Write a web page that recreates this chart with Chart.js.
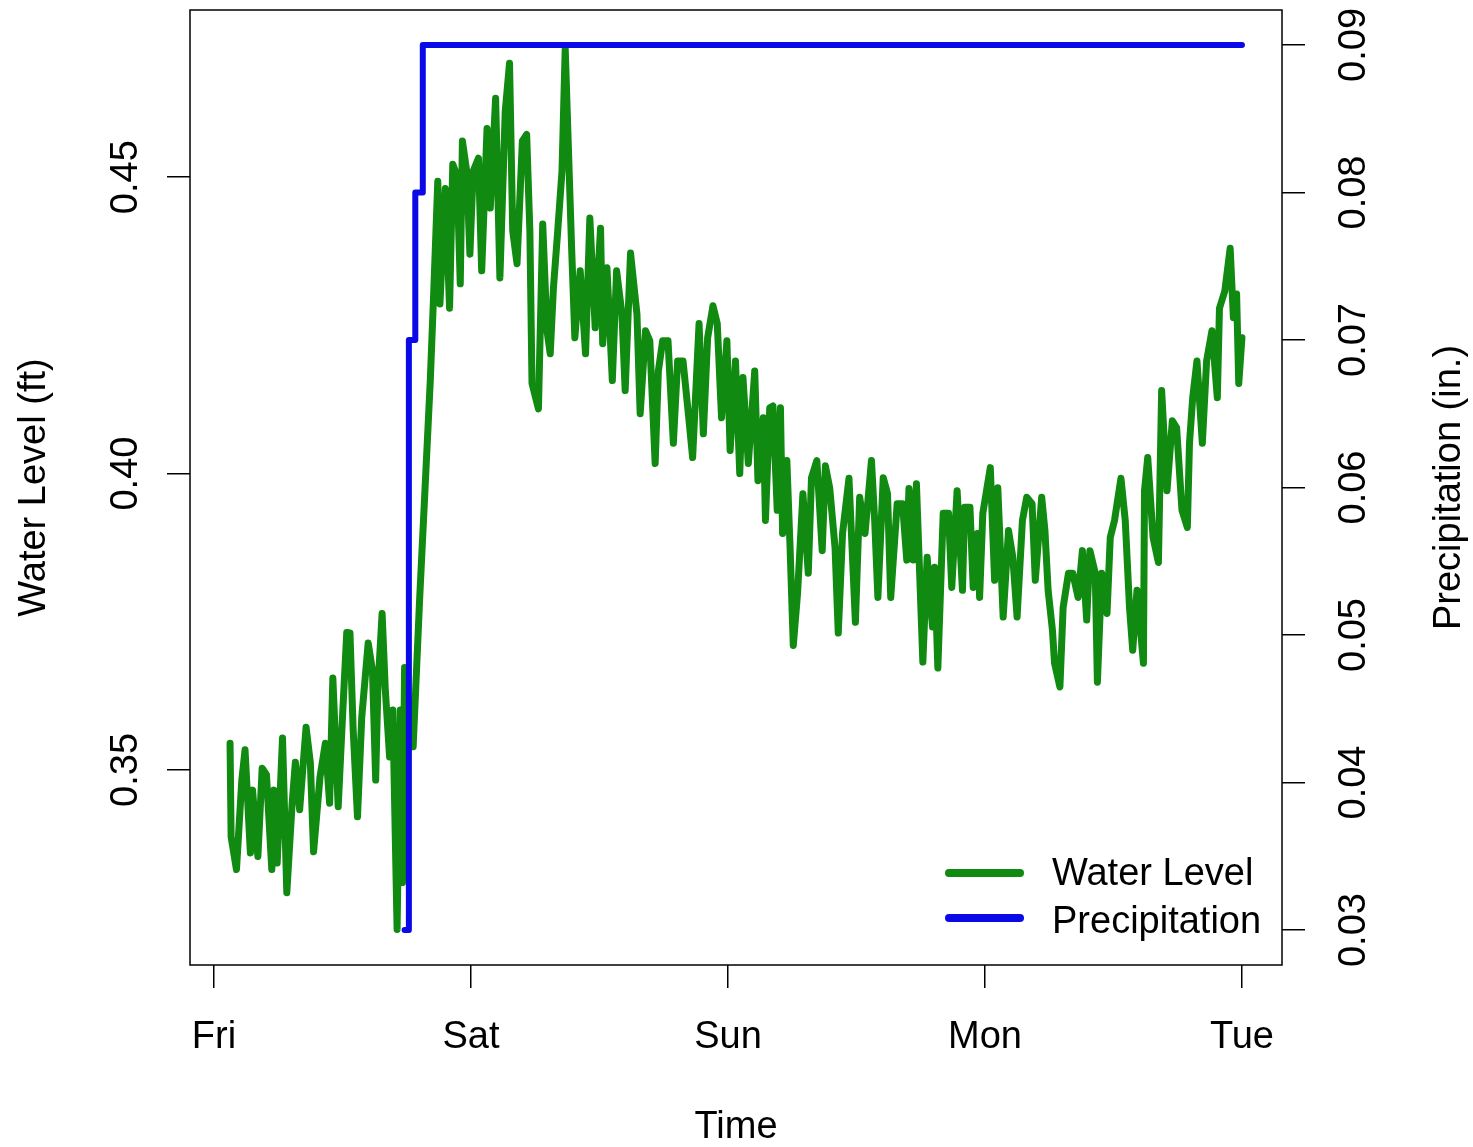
<!DOCTYPE html>
<html>
<head>
<meta charset="utf-8">
<script src="https://cdn.jsdelivr.net/npm/chart.js@4.4.0/dist/chart.umd.min.js"></script>
<style>
html, body { margin: 0; padding: 0; background: #ffffff; }
#wrap { width: 1473px; height: 1147px; }
</style>
</head>
<body>
<div id="wrap"><canvas id="c" width="1473" height="1147"></canvas></div>
<script>
// ---- data ----
const dayLabels = ['Fri', 'Sat', 'Sun', 'Mon', 'Tue'];
const dayHours = [0, 24, 48, 72, 96];           // hours since Friday 00:00
const levelTicks = [0.35, 0.40, 0.45];
const levelTickLabels = ['0.35', '0.40', '0.45'];
const precipTicks = [0.03, 0.04, 0.05, 0.06, 0.07, 0.08, 0.09];
const precipTickLabels = ['0.03', '0.04', '0.05', '0.06', '0.07', '0.08', '0.09'];

const xTitle = 'Time';
const levelTitle = 'Water Level (ft)';
const precipTitle = 'Precipitation (in.)';
const levelName = 'Water Level';
const precipName = 'Precipitation';

const levelHours = [
  1.5,1.6,2.1,2.6,2.9,3.4,3.6,4.1,4.5,4.9,
  5.4,5.6,5.9,6.4,6.8,7.3,7.6,8.0,8.6,9.0,
  9.3,9.9,10.4,10.8,11.1,11.6,12.0,12.4,12.7,13.0,
  13.4,13.8,14.4,14.8,15.1,15.3,15.7,16.0,16.4,16.7,
  17.1,17.4,17.6,17.8,18.6,19.2,19.7,20.2,20.5,20.9,
  21.1,21.6,22.0,22.3,22.7,23.0,23.2,23.6,23.9,24.2,
  24.7,25.0,25.5,25.8,26.3,26.7,27.2,27.6,27.9,28.3,
  28.8,29.2,29.5,29.7,30.3,30.7,31.1,31.4,31.7,32.1,
  32.5,32.8,33.4,33.7,34.2,34.7,35.1,35.6,36.1,36.3,
  36.7,37.2,37.6,38.1,38.4,38.9,39.5,39.8,40.3,40.7,
  41.2,41.5,41.9,42.4,42.9,43.3,43.8,44.3,44.7,45.3,
  45.7,46.1,46.6,47.0,47.4,47.9,48.2,48.7,49.1,49.4,
  49.9,50.5,50.8,51.3,51.5,51.9,52.2,52.6,52.9,53.1,
  53.5,53.8,54.1,54.5,55.0,55.5,55.8,56.3,56.8,57.1,
  57.5,58.0,58.3,58.7,59.3,59.9,60.3,60.8,61.4,61.7,
  62.0,62.5,62.9,63.2,63.8,64.3,64.7,64.9,65.3,65.6,
  65.9,66.2,66.6,67.1,67.3,67.6,68.1,68.6,68.9,69.4,
  69.9,70.1,70.6,70.9,71.3,71.5,71.8,72.5,72.9,73.2,
  73.7,74.2,74.6,75.0,75.5,75.9,76.4,76.7,77.3,77.6,
  77.9,78.3,78.5,79.0,79.3,79.8,80.2,80.7,81.1,81.5,
  81.8,82.3,82.5,82.9,83.4,83.7,84.1,84.7,85.1,85.5,
  85.8,86.2,86.8,86.9,87.2,87.7,88.2,88.5,89.0,89.5,
  89.9,90.4,90.9,91.1,91.4,91.8,92.3,92.7,93.2,93.7,
  93.9,94.4,94.9,95.2,95.5,95.7,96.0
];
const levelFeet = [
  0.3545,0.3387,0.3332,0.3483,0.3534,0.3360,0.3466,0.3354,0.3503,0.3492,
  0.3332,0.3466,0.3343,0.3554,0.3293,0.3444,0.3513,0.3433,0.3572,0.3512,
  0.3362,0.3488,0.3545,0.3444,0.3655,0.3438,0.3589,0.3732,0.3731,0.3567,
  0.3421,0.3589,0.3714,0.3668,0.3483,0.3635,0.3764,0.3635,0.3522,0.3601,
  0.3231,0.3601,0.3310,0.3673,0.3539,0.3786,0.3971,0.4157,0.4296,0.4493,
  0.4286,0.4481,0.4279,0.4522,0.4502,0.4320,0.4561,0.4510,0.4370,0.4510,
  0.4532,0.4342,0.4582,0.4448,0.4633,0.4330,0.4611,0.4692,0.4409,0.4354,
  0.4561,0.4572,0.4409,0.4152,0.4109,0.4421,0.4241,0.4202,0.4313,0.4409,
  0.4510,0.4717,0.4380,0.4229,0.4342,0.4202,0.4431,0.4246,0.4414,0.4219,
  0.4347,0.4157,0.4342,0.4269,0.4140,0.4372,0.4269,0.4101,0.4241,0.4224,
  0.4017,0.4173,0.4224,0.4224,0.4051,0.4190,0.4190,0.4101,0.4027,0.4253,
  0.4067,0.4229,0.4283,0.4253,0.4094,0.4224,0.4039,0.4190,0.4000,0.4162,
  0.4017,0.4173,0.3988,0.4094,0.3921,0.4111,0.4114,0.3938,0.4111,0.3899,
  0.4022,0.3875,0.3710,0.3798,0.3966,0.3832,0.3993,0.4022,0.3870,0.4013,
  0.3976,0.3875,0.3731,0.3899,0.3992,0.3749,0.3960,0.3899,0.4022,0.3921,
  0.3791,0.3993,0.3966,0.3791,0.3949,0.3949,0.3854,0.3975,0.3854,0.3983,
  0.3832,0.3682,0.3859,0.3741,0.3842,0.3672,0.3933,0.3933,0.3808,0.3971,
  0.3803,0.3943,0.3943,0.3808,0.3899,0.3791,0.3933,0.4010,0.3820,0.3976,
  0.3758,0.3904,0.3859,0.3758,0.3921,0.3960,0.3949,0.3820,0.3960,0.3904,
  0.3803,0.3736,0.3680,0.3640,0.3774,0.3832,0.3832,0.3791,0.3870,0.3753,
  0.3870,0.3832,0.3648,0.3832,0.3764,0.3892,0.3921,0.3992,0.3921,0.3774,
  0.3702,0.3803,0.3680,0.3971,0.4027,0.3892,0.3850,0.4140,0.3971,0.4089,
  0.4077,0.3938,0.3909,0.4051,0.4128,0.4190,0.4051,0.4190,0.4241,0.4128,
  0.4279,0.4308,0.4380,0.4263,0.4303,0.4152,0.4229
];
const precipHours = [17.8, 18.2, 18.8, 19.5, 96.0];
const precipInches = [0.03, 0.07, 0.08, 0.09, 0.09];

// ---- styling ----
const GREEN = '#108a10';
const BLUE = '#0a0ae8';
const FONT = '38px "Liberation Sans", Arial, Helvetica, sans-serif';

const toPoints = (xs, ys) => xs.map((x, i) => ({ x: x, y: ys[i] }));

const frame = {
  id: 'frame',
  afterDraw(chart) {
    const { ctx, chartArea: ca, scales } = chart;
    ctx.save();
    ctx.strokeStyle = '#000';
    ctx.lineWidth = 1.5;
    ctx.strokeRect(ca.left, ca.top, ca.right - ca.left, ca.bottom - ca.top);

    ctx.fillStyle = '#000';
    ctx.font = FONT;
    ctx.textBaseline = 'alphabetic';
    ctx.textAlign = 'center';
    scales.x.ticks.forEach(t => ctx.fillText(t.label, scales.x.getPixelForValue(t.value), ca.bottom + 83));
    ctx.fillText(xTitle, (ca.left + ca.right) / 2, ca.bottom + 173);

    const vtext = (txt, x, y) => {
      ctx.save();
      ctx.translate(x, y);
      ctx.rotate(-Math.PI / 2);
      ctx.fillText(txt, 0, 0);
      ctx.restore();
    };
    scales.y.ticks.forEach(t => vtext(t.label, ca.left - 53, scales.y.getPixelForValue(t.value)));
    scales.y1.ticks.forEach(t => vtext(t.label, ca.right + 83, scales.y1.getPixelForValue(t.value)));
    const midY = (ca.top + ca.bottom) / 2;
    vtext(levelTitle, ca.left - 145, midY);
    vtext(precipTitle, ca.right + 178, midY);

    // legend (bottom-right inside plot)
    const entries = [
      { label: chart.data.datasets[0].label, color: chart.data.datasets[0].borderColor, y: ca.bottom - 92, base: ca.bottom - 80 },
      { label: chart.data.datasets[1].label, color: chart.data.datasets[1].borderColor, y: ca.bottom - 47, base: ca.bottom - 32 }
    ];
    ctx.textAlign = 'left';
    ctx.lineCap = 'round';
    entries.forEach(e => {
      ctx.strokeStyle = e.color;
      ctx.lineWidth = 8;
      ctx.beginPath();
      ctx.moveTo(ca.right - 333, e.y);
      ctx.lineTo(ca.right - 262, e.y);
      ctx.stroke();
      ctx.fillStyle = '#000';
      ctx.fillText(e.label, ca.right - 230, e.base);
    });
    ctx.restore();
  }
};

const axisCommon = {
  grid: { drawOnChartArea: false, drawTicks: true, tickLength: 23, color: '#000', lineWidth: 1.5 },
  border: { display: false },
};

new Chart(document.getElementById('c'), {
  type: 'line',
  data: {
    datasets: [
      {
        label: levelName,
        data: toPoints(levelHours, levelFeet),
        yAxisID: 'y',
        borderColor: GREEN,
        backgroundColor: GREEN,
        borderWidth: 7,
        borderJoinStyle: 'round',
        borderCapStyle: 'round',
        pointRadius: 0,
        tension: 0,
        fill: false,
        order: 1
      },
      {
        label: precipName,
        data: toPoints(precipHours, precipInches),
        yAxisID: 'y1',
        borderColor: BLUE,
        backgroundColor: BLUE,
        borderWidth: 6,
        borderJoinStyle: 'round',
        borderCapStyle: 'round',
        stepped: 'before',
        pointRadius: 0,
        fill: false,
        order: 0
      }
    ]
  },
  options: {
    responsive: false,
    animation: false,
    devicePixelRatio: 1,
    layout: { padding: { top: 10, left: 0, right: 0, bottom: 0 } },
    plugins: { legend: { display: false }, tooltip: { enabled: false }, title: { display: false } },
    scales: {
      x: Object.assign({}, axisCommon, {
        type: 'linear',
        position: 'bottom',
        min: -2.24,
        max: 99.74,
        afterBuildTicks: s => { s.ticks = dayHours.map(v => ({ value: v })); },
        ticks: { display: false, callback: (v) => dayLabels[dayHours.indexOf(v)] },
        afterFit: s => { s.height = 182; }
      }),
      y: Object.assign({}, axisCommon, {
        type: 'linear',
        position: 'left',
        min: 0.3171,
        max: 0.4782,
        afterBuildTicks: s => { s.ticks = levelTicks.map(v => ({ value: v })); },
        ticks: { display: false, callback: (v) => levelTickLabels[levelTicks.indexOf(v)] },
        afterFit: s => { s.width = 190; }
      }),
      y1: Object.assign({}, axisCommon, {
        type: 'linear',
        position: 'right',
        min: 0.02763,
        max: 0.09237,
        afterBuildTicks: s => { s.ticks = precipTicks.map(v => ({ value: v })); },
        ticks: { display: false, callback: (v) => precipTickLabels[precipTicks.indexOf(v)] },
        afterFit: s => { s.width = 191; }
      })
    }
  },
  plugins: [frame]
});
</script>
</body>
</html>
